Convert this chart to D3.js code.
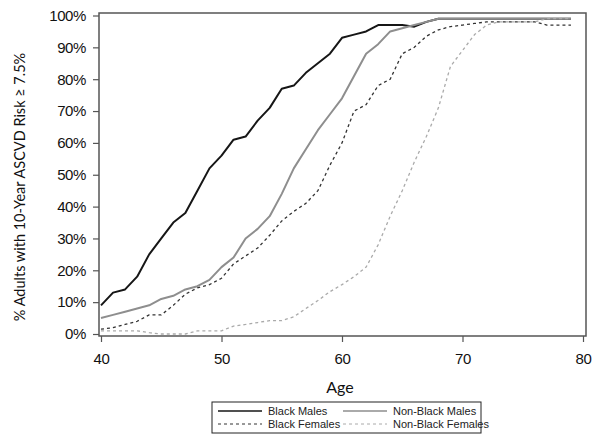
<!DOCTYPE html>
<html>
<head>
<meta charset="utf-8">
<script src="https://cdn.jsdelivr.net/npm/d3@7"></script>
<style>
  body { margin: 0; background: #fff; }
  .tick text { font-family: "Liberation Sans", Arial, sans-serif; font-size: 15px; fill: #111; letter-spacing: -0.4px; }
  .tick line { stroke: #555; stroke-width: 1.2; }
</style>
</head>
<body>
<svg width="603" height="441"></svg>
<script>
// ages 40..79
var ages = d3.range(40, 80);

var blackMales = [9, 13, 14, 18, 25, 30, 35, 38, 45, 52, 56, 61, 62, 67, 71, 77, 78, 82, 85, 88,
  93, 94, 95, 97, 97, 97, 96.5, 98, 99, 99, 99, 99, 99, 99, 99, 99, 99, 99, 99, 99];
var nonBlackMales = [5, 6, 7, 8, 9, 11, 12, 14, 15, 17, 21, 24, 30, 33, 37, 44, 52, 58, 64, 69,
  74, 81, 88, 91, 95, 96, 97, 98, 99, 99, 99, 99, 99, 99, 99, 99, 99, 99, 99, 99];
var blackFemales = [1.5, 2, 3, 4, 6, 6, 9, 12.5, 14.5, 15.5, 17.5, 22, 24.5, 27, 31, 35.5, 38.5, 41, 45, 53,
  60, 70, 72, 78, 80, 88, 90, 93.5, 95.5, 96.5, 97, 97.5, 98, 98, 98, 98, 98, 97, 97, 97];
var nonBlackFemales = [1, 1, 1, 1, 0.4, 0, 0, 0, 1, 1, 1, 2.5, 3, 3.6, 4.2, 4.2, 5.4, 8, 10.5, 13.3,
  15.5, 18, 21, 28, 37, 45, 54, 62, 71, 84, 89, 94, 97, 98, 98, 98, 98, 99, 99, 99];

var seriesNames = ["Black Males", "Non-Black Males", "Black Females", "Non-Black Females"];
var seriesValues = [blackMales, nonBlackMales, blackFemales, nonBlackFemales];
var xTicks = [40, 50, 60, 70, 80];
var yTicks = [0, 10, 20, 30, 40, 50, 60, 70, 80, 90, 100];

var styles = [
  { color: "#161616", width: 2, dash: null },
  { color: "#8e8e8e", width: 2, dash: null },
  { color: "#333", width: 1.3, dash: "3,3" },
  { color: "#aaa", width: 1.3, dash: "3,3" }
];

var svg = d3.select("svg");

var x = d3.scaleLinear().domain([40, 80]).range([101, 583]);
var y = d3.scaleLinear().domain([0, 100]).range([334, 15.5]);

// frame
svg.append("rect")
  .attr("x", 99).attr("y", 13)
  .attr("width", 586 - 99).attr("height", 336 - 13)
  .attr("fill", "none").attr("stroke", "#555").attr("stroke-width", 1.5);

var yAxis = svg.append("g")
  .attr("transform", "translate(99,0)")
  .call(d3.axisLeft(y).tickValues(yTicks).tickSize(6).tickPadding(7)
    .tickFormat(function(d) { return d + "%"; }));
yAxis.select(".domain").remove();

var xAxis = svg.append("g")
  .attr("transform", "translate(0,336)")
  .call(d3.axisBottom(x).tickValues(xTicks).tickSize(6).tickPadding(11));
xAxis.select(".domain").remove();

// axis titles
svg.append("text")
  .attr("transform", "translate(25,187) rotate(-90)")
  .attr("text-anchor", "middle")
  .style("font-family", "Lato, 'Open Sans', sans-serif")
  .style("font-size", "14.5px")
  .style("fill", "#111")
  .text("% Adults with 10-Year ASCVD Risk \u2265 7.5%");

svg.append("text")
  .attr("x", 340).attr("y", 393)
  .attr("text-anchor", "middle")
  .style("font-family", "Lato, 'Open Sans', sans-serif")
  .style("font-size", "16px")
  .style("fill", "#111")
  .text("Age");

// lines
var line = d3.line()
  .x(function(d, i) { return x(ages[i]); })
  .y(function(d) { return y(d); });

var drawOrder = [0, 1, 2, 3];
drawOrder.forEach(function(k) {
  svg.append("path")
    .datum(seriesValues[k])
    .attr("d", line)
    .attr("fill", "none")
    .attr("stroke", styles[k].color)
    .attr("stroke-width", styles[k].width)
    .attr("stroke-dasharray", styles[k].dash)
    .attr("stroke-linejoin", "round");
});

// legend
var legend = svg.append("g");
legend.append("rect")
  .attr("x", 212).attr("y", 402)
  .attr("width", 481 - 212).attr("height", 31)
  .attr("fill", "none").attr("stroke", "#222").attr("stroke-width", 1);

var legendPos = [
  { x: 218, y: 411 }, { x: 343, y: 411 },
  { x: 218, y: 424 }, { x: 343, y: 424 }
];
seriesNames.forEach(function(name, k) {
  var p = legendPos[k];
  legend.append("line")
    .attr("x1", p.x).attr("x2", p.x + 44)
    .attr("y1", p.y).attr("y2", p.y)
    .attr("stroke", styles[k].color)
    .attr("stroke-width", styles[k].width === 2 ? 1.5 : 1)
    .attr("stroke-dasharray", styles[k].dash);
  legend.append("text")
    .attr("x", p.x + 50).attr("y", p.y + 4)
    .style("font-family", "'Liberation Sans', Arial, sans-serif")
    .style("font-size", "11px")
    .style("fill", "#222")
    .text(name);
});
</script>
</body>
</html>
